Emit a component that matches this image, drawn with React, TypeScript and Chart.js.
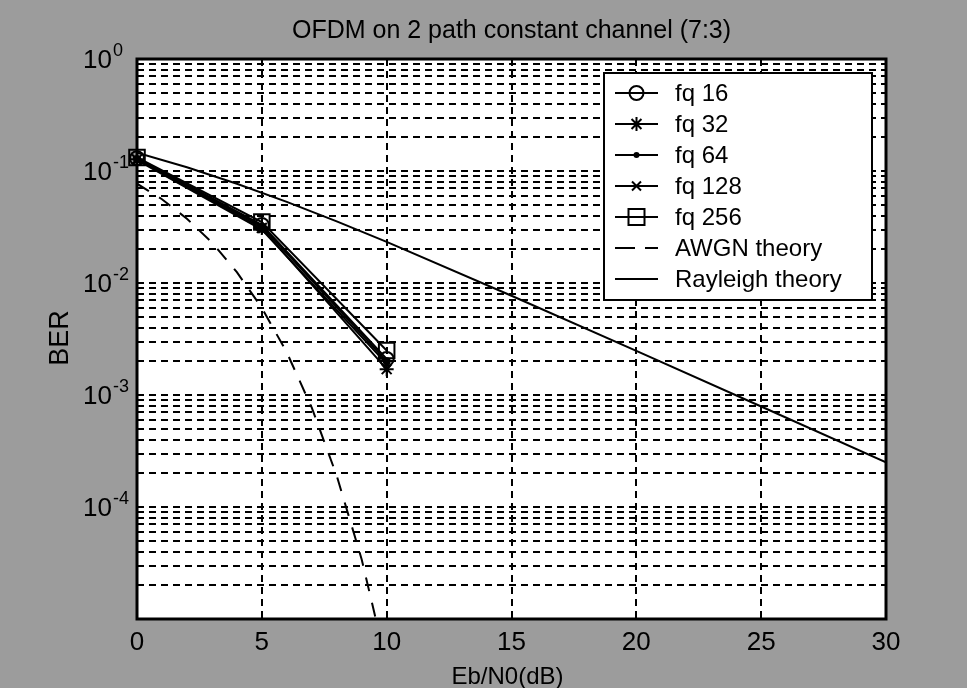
import React, { useEffect, useRef } from 'react';
import { Chart, registerables } from 'chart.js';
Chart.register(...registerables);

// ---- data ----
const titleText = 'OFDM on 2 path constant channel (7:3)';
const xLabel = 'Eb/N0(dB)';
const yLabel = 'BER';
const xTickValues = [0, 5, 10, 15, 20, 25, 30];
const yDecades = [0, -1, -2, -3, -4, -5];
const yLabelDecades = [0, -1, -2, -3, -4];
const yMinorMultipliers = [1, 2, 3, 4, 5, 6, 7, 8, 9];

const snr = [0, 5, 10];
const fq16 = [0.130, 0.033, 0.0021];
const fq32 = [0.127, 0.031, 0.0017];
const fq64 = [0.128, 0.032, 0.0020];
const fq128 = [0.125, 0.030, 0.0019];
const fq256 = [0.132, 0.035, 0.0025];

const awgnX = [0, 1, 2, 3, 4, 5, 6, 7, 8, 9, 10];
const awgnBer = [0.077, 0.056, 0.0375, 0.023, 0.0125, 0.006, 0.0024, 0.00077, 0.00019, 0.000034, 0.0000039];

const rayX = [0, 2, 4, 6, 8, 10, 15, 20, 25, 30];
const rayBer = [0.146, 0.108, 0.077, 0.053, 0.0355, 0.0233, 0.0077, 0.00248, 0.00079, 0.00025];

const legendLabels = ['fq 16', 'fq 32', 'fq 64', 'fq 128', 'fq 256', 'AWGN theory', 'Rayleigh theory'];

const FONT = "'Liberation Sans', Arial, sans-serif";

function pts(xs: number[], ys: number[]) {
  return xs.map((x, i) => ({ x, y: ys[i] }));
}

function drawMarker(ctx: CanvasRenderingContext2D, kind: string, x: number, y: number) {
  ctx.save();
  ctx.strokeStyle = '#000';
  ctx.fillStyle = '#000';
  ctx.lineWidth = 2;
  ctx.setLineDash([]);
  ctx.beginPath();
  if (kind === 'circle') {
    ctx.arc(x, y, 7, 0, Math.PI * 2);
    ctx.stroke();
  } else if (kind === 'star') {
    const r = 7;
    for (let k = 0; k < 4; k++) {
      const a = (k * Math.PI) / 4;
      ctx.moveTo(x - r * Math.cos(a), y - r * Math.sin(a));
      ctx.lineTo(x + r * Math.cos(a), y + r * Math.sin(a));
    }
    ctx.stroke();
  } else if (kind === 'dot') {
    ctx.arc(x, y, 3, 0, Math.PI * 2);
    ctx.fill();
  } else if (kind === 'cross') {
    const r = 4.5;
    ctx.moveTo(x - r, y - r); ctx.lineTo(x + r, y + r);
    ctx.moveTo(x - r, y + r); ctx.lineTo(x + r, y - r);
    ctx.stroke();
  } else if (kind === 'square') {
    ctx.rect(x - 8, y - 8, 16, 16);
    ctx.stroke();
  }
  ctx.restore();
}

const markerKinds = ['circle', 'star', 'dot', 'cross', 'square', '', ''];

const decorPlugin = {
  id: 'decor',
  beforeDraw(chart: any) {
    const { ctx, width, height, chartArea: a } = chart;
    ctx.save();
    ctx.fillStyle = '#9c9c9c';
    ctx.fillRect(0, 0, width, height);
    ctx.fillStyle = '#ffffff';
    ctx.fillRect(a.left, a.top, a.right - a.left, a.bottom - a.top);
    ctx.restore();
  },
  beforeDatasetsDraw(chart: any) {
    const { ctx, chartArea: a } = chart;
    ctx.save();
    ctx.strokeStyle = '#000';
    ctx.lineWidth = 3;
    ctx.setLineDash([]);
    ctx.strokeRect(a.left, a.top, a.right - a.left, a.bottom - a.top);
    ctx.restore();
  },
  afterDraw(chart: any) {
    const { ctx, chartArea: a, scales } = chart;
    const xs = scales.x;
    const ys = scales.y;
    ctx.save();
    ctx.fillStyle = '#000';
    // title
    ctx.font = `25px ${FONT}`;
    ctx.textAlign = 'center';
    ctx.textBaseline = 'alphabetic';
    ctx.fillText(titleText, (a.left + a.right) / 2, 38);
    // x tick labels
    ctx.font = `26px ${FONT}`;
    xTickValues.forEach((v) => {
      ctx.fillText(String(v), xs.getPixelForValue(v), 650);
    });
    // x label
    ctx.font = `24px ${FONT}`;
    ctx.fillText(xLabel, (a.left + a.right) / 2 - 4, 684);
    // y tick labels with superscript
    yLabelDecades.forEach((d) => {
      const y = ys.getPixelForValue(Math.pow(10, d));
      ctx.textAlign = 'left';
      ctx.font = `26px ${FONT}`;
      ctx.fillText('10', 83, y + 9);
      const w = ctx.measureText('10').width;
      ctx.font = `18px ${FONT}`;
      ctx.fillText(d === 0 ? '0' : '-' + String(-d), 83 + w + 1, y - 3);
    });
    // y label
    ctx.save();
    ctx.translate(68, 338);
    ctx.rotate(-Math.PI / 2);
    ctx.textAlign = 'center';
    ctx.font = `27px ${FONT}`;
    ctx.fillText(yLabel, 0, 0);
    ctx.restore();

    // legend
    const lx0 = 604, ly0 = 73, lx1 = 872, ly1 = 300;
    ctx.fillStyle = '#fff';
    ctx.fillRect(lx0, ly0, lx1 - lx0, ly1 - ly0);
    ctx.strokeStyle = '#000';
    ctx.lineWidth = 2;
    ctx.setLineDash([]);
    ctx.strokeRect(lx0, ly0, lx1 - lx0, ly1 - ly0);
    ctx.font = `24px ${FONT}`;
    ctx.textAlign = 'left';
    ctx.textBaseline = 'middle';
    legendLabels.forEach((lab, i) => {
      const y = 93 + i * 31;
      ctx.save();
      ctx.strokeStyle = '#000';
      ctx.lineWidth = 2;
      if (i === 5) ctx.setLineDash([20, 10]);
      else ctx.setLineDash([]);
      ctx.beginPath();
      ctx.moveTo(615, y);
      ctx.lineTo(658, y);
      ctx.stroke();
      ctx.restore();
      if (markerKinds[i]) drawMarker(ctx, markerKinds[i], 636.5, y);
      ctx.fillStyle = '#000';
      ctx.fillText(lab, 675, y + 1);
    });
    ctx.restore();
  },
};

const yTickValues: number[] = [];
yDecades.forEach((d) => {
  yMinorMultipliers.forEach((m) => {
    const v = m * Math.pow(10, d);
    if (v <= 1.0000001 && v >= 0.9999e-5) yTickValues.push(v);
  });
});

export default function App() {
  const ref = useRef<HTMLCanvasElement | null>(null);
  useEffect(() => {
    document.body.style.margin = '0';
    const canvas = ref.current;
    if (!canvas) return;
    const simStyle = (label: string, ys: number[], pointStyle: any, radius: number, filled: boolean) => ({
      label,
      data: pts(snr, ys),
      borderColor: '#000',
      backgroundColor: filled ? '#000' : 'rgba(0,0,0,0)',
      borderWidth: 2,
      pointStyle,
      pointRadius: radius,
      pointBorderWidth: 2,
      pointBorderColor: '#000',
      pointBackgroundColor: filled ? '#000' : 'rgba(0,0,0,0)',
      clip: false as any,
    });
    const chart = new Chart(canvas, {
      type: 'line',
      data: {
        datasets: [
          {
            label: 'AWGN theory',
            data: pts(awgnX, awgnBer),
            borderColor: '#000',
            borderWidth: 2,
            borderDash: [14, 12],
            pointRadius: 0,
            fill: false,
          },
          {
            label: 'Rayleigh theory',
            data: pts(rayX, rayBer),
            borderColor: '#000',
            borderWidth: 2,
            pointRadius: 0,
            fill: false,
          },
          simStyle('fq 16', fq16, 'circle', 7, false),
          simStyle('fq 32', fq32, 'star', 7, false),
          simStyle('fq 64', fq64, 'circle', 3, true),
          simStyle('fq 128', fq128, 'crossRot', 5, false),
          simStyle('fq 256', fq256, 'rect', 11, false),
        ] as any,
      },
      options: {
        responsive: false,
        animation: false,
        layout: { padding: { top: 59, right: 81, left: 0, bottom: 0 } },
        plugins: { legend: { display: false }, title: { display: false }, tooltip: { enabled: false } },
        scales: {
          x: {
            type: 'linear',
            min: 0,
            max: 30,
            ticks: { stepSize: 5, display: false },
            grid: { color: '#000', lineWidth: 2, drawTicks: false },
            border: { display: false, dash: [7, 5] },
            afterFit: (s: any) => { s.height = 69; },
          },
          y: {
            type: 'logarithmic',
            min: 1e-5,
            max: 1,
            ticks: { display: false, autoSkip: false },
            grid: { color: '#000', lineWidth: 2, drawTicks: false },
            border: { display: false, dash: [7, 5] },
            afterBuildTicks: (s: any) => { s.ticks = yTickValues.map((v) => ({ value: v })); },
            afterFit: (s: any) => { s.width = 137; },
          },
        },
      } as any,
      plugins: [decorPlugin],
    });
    return () => chart.destroy();
  }, []);
  return <canvas ref={ref} width={967} height={688} style={{ display: 'block' }} />;
}
